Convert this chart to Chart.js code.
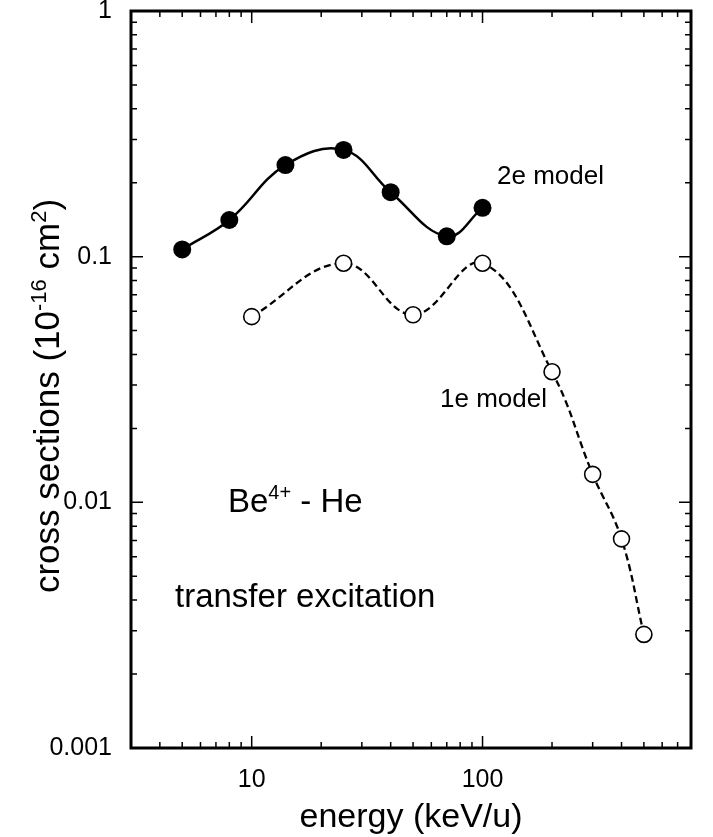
<!DOCTYPE html>
<html>
<head>
<meta charset="utf-8">
<script src="https://cdn.jsdelivr.net/npm/chart.js@4.4.1/dist/chart.umd.min.js"></script>
<style>
  html, body { margin: 0; padding: 0; background: #fff; }
  #wrap { width: 713px; height: 837px; }
</style>
</head>
<body>
<div id="wrap"><canvas id="chart" width="713" height="837"></canvas></div>
<script>
// energía (keV/u) y secciones eficaces (10^-16 cm^2)
const ENERGY_2E = [5, 8, 14, 25, 40, 70, 100];
const SIGMA_2E = [0.107, 0.141, 0.236, 0.272, 0.183, 0.121, 0.158];

const ENERGY_1E = [10, 25, 50, 100, 200, 300, 400, 500];
const SIGMA_1E = [0.057, 0.094, 0.058, 0.094, 0.034, 0.013, 0.0071, 0.0029];

const X_TICKS = [10, 100];
const Y_TICKS = [0.001, 0.01, 0.1, 1];

const FONT = '"Liberation Sans", Arial, Helvetica, sans-serif';

// Marco con marcas hacia adentro en los cuatro lados (mayores y menores)
const frameTicks = {
  id: "frameTicks",
  afterDraw(chart) {
    const { ctx, chartArea: a, scales } = chart;
    ctx.save();
    ctx.strokeStyle = "#000";
    ctx.lineWidth = 3;
    ctx.strokeRect(a.left, a.top, a.right - a.left, a.bottom - a.top);

    const logMarks = (scale) => {
      const out = [];
      const d0 = Math.floor(Math.log10(scale.min));
      const d1 = Math.ceil(Math.log10(scale.max));
      for (let d = d0; d <= d1; d++) {
        for (let m = 1; m <= 9; m++) {
          const v = m * Math.pow(10, d);
          if (v >= scale.min * 0.999 && v <= scale.max * 1.001) {
            out.push({ p: scale.getPixelForValue(v), major: m === 1 });
          }
        }
      }
      return out;
    };

    ctx.lineWidth = 1.5;
    ctx.beginPath();
    logMarks(scales.x).forEach(({ p, major }) => {
      const len = major ? 12 : 6;
      ctx.moveTo(p, a.bottom);
      ctx.lineTo(p, a.bottom - len);
      ctx.moveTo(p, a.top);
      ctx.lineTo(p, a.top + len);
    });
    logMarks(scales.y).forEach(({ p, major }) => {
      const len = major ? 12 : 6;
      ctx.moveTo(a.left, p);
      ctx.lineTo(a.left + len, p);
      ctx.moveTo(a.right, p);
      ctx.lineTo(a.right - len, p);
    });
    ctx.stroke();
    ctx.restore();
  },
};

// Texto con superíndices: partes [texto, esSuper]
function drawRich(ctx, parts, x, y, size, align) {
  const supSize = Math.round(size * 0.62);
  const widths = parts.map(([t, sup]) => {
    ctx.font = `${sup ? supSize : size}px ${FONT}`;
    return ctx.measureText(t).width;
  });
  const total = widths.reduce((s, w) => s + w, 0);
  let cx = align === "center" ? x - total / 2 : x;
  parts.forEach(([t, sup], i) => {
    ctx.font = `${sup ? supSize : size}px ${FONT}`;
    ctx.fillText(t, cx, sup ? y - size * 0.38 : y);
    cx += widths[i];
  });
}

const annotations = {
  id: "annotations",
  afterDraw(chart) {
    const { ctx } = chart;
    ctx.save();
    ctx.fillStyle = "#000";
    ctx.textBaseline = "alphabetic";
    ctx.textAlign = "left";

    ctx.font = `26px ${FONT}`;
    ctx.fillText("2e model", 497, 184);
    ctx.fillText("1e model", 440, 407);

    drawRich(ctx, [["Be", false], ["4+", true], [" - He", false]], 228, 512, 33, "left");

    ctx.font = `33px ${FONT}`;
    ctx.fillText("transfer excitation", 175, 607);

    // título del eje y, rotado
    ctx.translate(59, 396);
    ctx.rotate(-Math.PI / 2);
    drawRich(
      ctx,
      [["cross sections (10", false], ["-16", true], [" cm", false], ["2", true], [")", false]],
      0, 0, 35, "center"
    );
    ctx.restore();
  },
};

const ctx = document.getElementById("chart").getContext("2d");

new Chart(ctx, {
  type: "line",
  data: {
    datasets: [
      {
        label: "2e model",
        data: ENERGY_2E.map((e, i) => ({ x: e, y: SIGMA_2E[i] })),
        borderColor: "#000",
        borderWidth: 2.5,
        tension: 0.4,
        pointRadius: 9,
        pointBackgroundColor: "#000",
        pointBorderColor: "#000",
        pointBorderWidth: 0,
      },
      {
        label: "1e model",
        data: ENERGY_1E.map((e, i) => ({ x: e, y: SIGMA_1E[i] })),
        borderColor: "#000",
        borderWidth: 2.3,
        borderDash: [7, 4],
        tension: 0.4,
        pointRadius: 8,
        pointBackgroundColor: "#fff",
        pointBorderColor: "#000",
        pointBorderWidth: 1.6,
      },
    ],
  },
  options: {
    responsive: false,
    animation: false,
    layout: { padding: { top: 11, right: 22, bottom: 0, left: 0 } },
    plugins: {
      legend: { display: false },
      tooltip: { enabled: false },
    },
    scales: {
      x: {
        type: "logarithmic",
        min: 3,
        max: 800,
        afterBuildTicks: (s) => {
          s.ticks = X_TICKS.map((v) => ({ value: v, major: true }));
        },
        afterFit: (s) => {
          s.height = 89;
          s.paddingLeft = 0;
          s.paddingRight = 0;
        },
        grid: { display: false },
        border: { display: false },
        ticks: {
          color: "#000",
          font: { family: FONT, size: 25 },
          padding: 9,
          maxRotation: 0,
          autoSkip: false,
          callback: (v) => String(v),
        },
        title: {
          display: true,
          text: "energy (keV/u)",
          color: "#000",
          font: { family: FONT, size: 34 },
          padding: { top: 0, bottom: -1 },
        },
      },
      y: {
        type: "logarithmic",
        min: 0.001,
        max: 1,
        afterBuildTicks: (s) => {
          s.ticks = Y_TICKS.map((v) => ({ value: v, major: true }));
        },
        afterFit: (s) => {
          s.width = 131;
          s.paddingTop = 0;
          s.paddingBottom = 0;
        },
        grid: { display: false },
        border: { display: false },
        ticks: {
          color: "#000",
          font: { family: FONT, size: 25 },
          padding: 11,
          autoSkip: false,
          callback: (v) => String(v),
        },
      },
    },
  },
  plugins: [frameTicks, annotations],
});
</script>
</body>
</html>
